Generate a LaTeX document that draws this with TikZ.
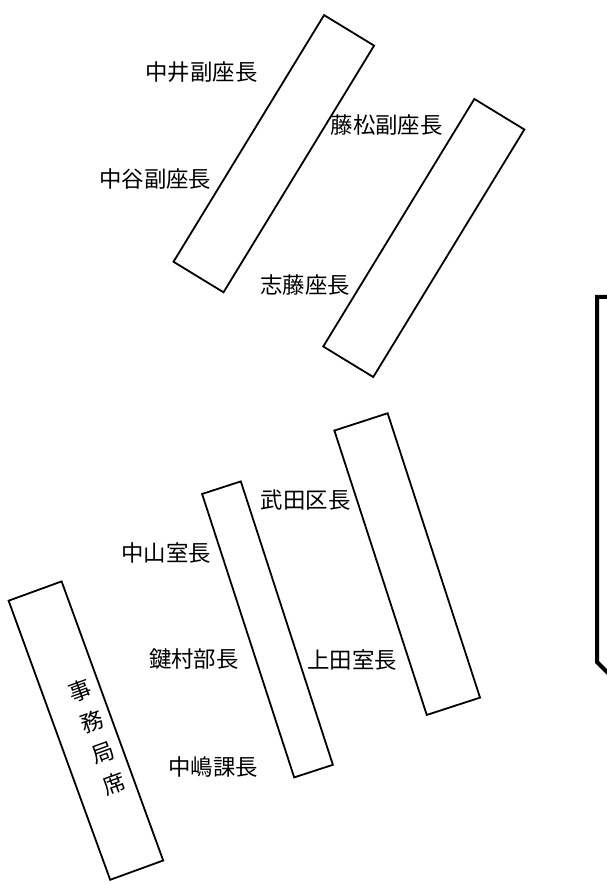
\documentclass[tikz,border=0pt]{standalone}
\usepackage{fontspec}
\setmainfont{Noto Sans CJK JP}
\usepackage{pgf,tikz}
\usetikzlibrary{shapes, positioning}
\tikzstyle{mesa} = [draw=black, line width=1.8pt, rectangle, inner sep=0pt, fill=white]
\tikzstyle{nombre} = [inner sep=0pt, font=\fontsize{22.4}{26}\selectfont]
\tikzstyle{pared} = [draw=black, line width=4pt]

\begin{document}
\begin{tikzpicture}[x=1pt, y=1pt]
	\useasboundingbox (0,0) rectangle (607,884);
	% mesas de arriba
	\node[mesa, minimum width=289, minimum height=58.6, rotate=58.6] (mesaA) at (273.8,730.3) {};
	\node[mesa, minimum width=290, minimum height=58.6, rotate=58.6] (mesaB) at (423.8,646) {};
	% mesas de abajo
	\node[mesa, minimum width=299, minimum height=56, rotate=-72] (mesaC) at (407.2,319.9) {};
	\node[mesa, minimum width=298, minimum height=40.7, rotate=-72] (mesaD) at (267.5,254.6) {};
	\node[mesa, minimum width=297, minimum height=56.4, rotate=-70] (mesaE) at (85.9,153.4) {};
	\node[nombre, rotate=20, align=center, font=\fontsize{22.4}{33}\selectfont] (secretaria) at (97.4,146.5) {事\\務\\局\\席};
	% nombres
	\node[nombre] (nakai) at (201.5,812.3) {中井副座長};
	\node[nombre] (fujimatsu) at (386.7,759.3) {藤松副座長};
	\node[nombre] (nakatani) at (155.2,704.5) {中谷副座長};
	\node[nombre] (shito) at (305.3,599) {志藤座長};
	\node[nombre] (takeda) at (305.7,384.3) {武田区長};
	\node[nombre] (nakayama) at (166.3,330.7) {中山室長};
	\node[nombre] (kagimura) at (193.8,224.5) {鍵村部長};
	\node[nombre] (ueda) at (352.3,224.3) {上田室長};
	\node[nombre] (nakajima) at (213,116.5) {中嶋課長};
	% pared derecha
	\draw[pared] (609,587) -- (597,587) -- (597,222) -- (609,210);
\end{tikzpicture}
\end{document}
